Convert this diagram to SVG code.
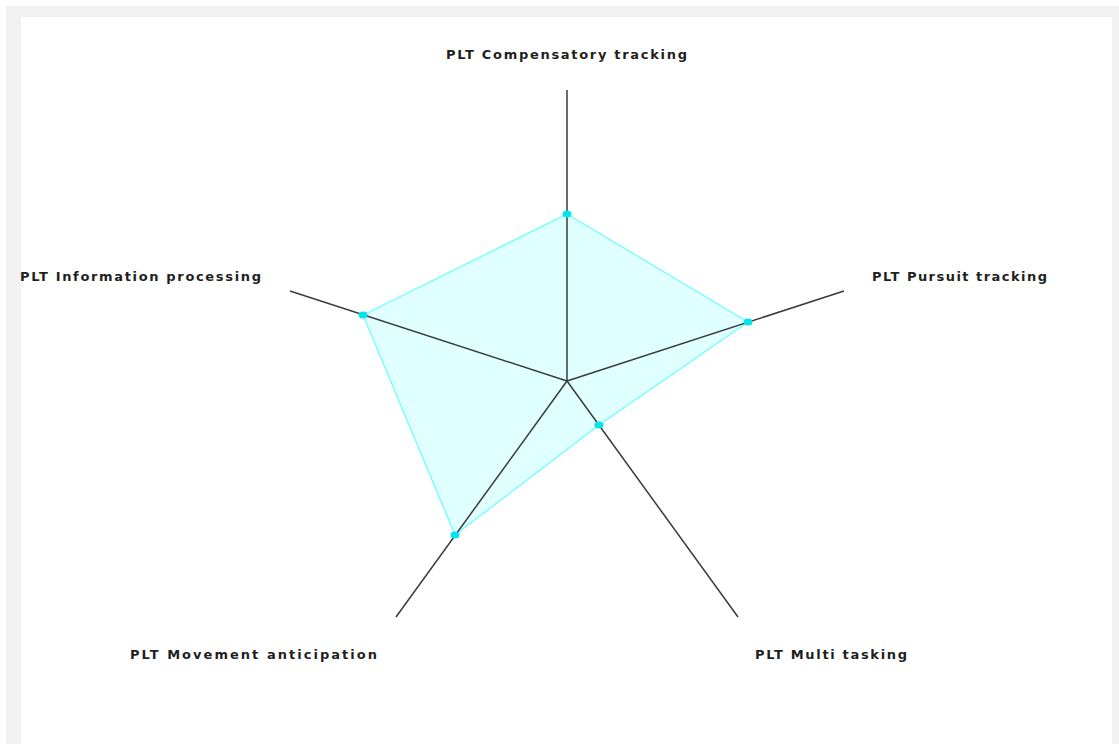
<svg xmlns="http://www.w3.org/2000/svg" width="1119" height="744" viewBox="0 0 1119 744">
<style>
.lbl{font-family:"DejaVu Sans","Liberation Sans",Arial,sans-serif;font-size:13px;font-weight:bold;fill:#1f1f1f}
.axis{stroke:#3a3a3a;stroke-width:1.5;fill:none}
.dot{fill:#00e5ee}
</style>
<rect x="0" y="0" width="1119" height="744" fill="#ffffff"/>
<rect x="6" y="6" width="1113" height="738" fill="#f2f2f2"/>
<rect x="21" y="17" width="1091" height="727" fill="#ffffff"/>
<g id="area">
<polygon points="567,214 748,322 599,425 455,535 363,315" fill="#e0ffff" stroke="#66ffff" stroke-width="1.2"/>
</g>
<g id="connectors">
<line class="axis" x1="567" y1="381" x2="567" y2="90"/>
<line class="axis" x1="567" y1="381" x2="844" y2="291"/>
<line class="axis" x1="567" y1="381" x2="738" y2="617"/>
<line class="axis" x1="567" y1="381" x2="396" y2="617"/>
<line class="axis" x1="567" y1="381" x2="290" y2="291"/>
</g>
<g id="points">
<ellipse class="dot" cx="567" cy="214" rx="4.5" ry="3.5"/>
<ellipse class="dot" cx="748" cy="322" rx="4.5" ry="3.5"/>
<ellipse class="dot" cx="599" cy="425" rx="4.5" ry="3.5"/>
<ellipse class="dot" cx="455" cy="535" rx="4.5" ry="3.5"/>
<ellipse class="dot" cx="363" cy="315" rx="4.5" ry="3.5"/>
</g>
<g id="n-compensatory"><text class="lbl" x="446" y="59" textLength="241" lengthAdjust="spacing">PLT Compensatory tracking</text></g>
<g id="n-pursuit"><text class="lbl" x="872" y="281" textLength="175" lengthAdjust="spacing">PLT Pursuit tracking</text></g>
<g id="n-multi"><text class="lbl" x="755" y="659" textLength="152" lengthAdjust="spacing">PLT Multi tasking</text></g>
<g id="n-movement"><text class="lbl" x="130" y="659" textLength="247" lengthAdjust="spacing">PLT Movement anticipation</text></g>
<g id="n-info"><text class="lbl" x="20" y="281" textLength="241" lengthAdjust="spacing">PLT Information processing</text></g>
</svg>
